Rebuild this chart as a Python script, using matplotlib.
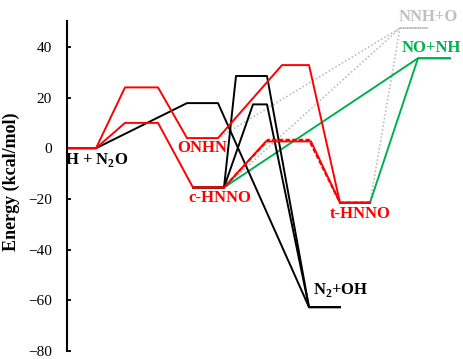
import matplotlib
matplotlib.use("Agg")
import matplotlib.pyplot as plt

plt.rcParams['font.family'] = ['Liberation Serif', 'DejaVu Serif']
plt.rcParams['mathtext.fontset'] = 'custom'
plt.rcParams['mathtext.rm'] = 'Liberation Serif'
plt.rcParams['mathtext.bf'] = 'Liberation Serif:bold'

# energy levels: name -> (x start, x end, energy in kcal/mol)
levels = {
    "R":      (67, 96, 0.0),
    "TS1a":   (125, 158, 24.0),
    "TS1b":   (125, 158, 10.0),
    "TSk1":   (187, 218, 17.8),
    "ONHN":   (187, 218, 4.0),
    "cHNNO":  (193, 224, -15.5),
    "TSk2":   (236, 267, 28.5),
    "TSk3":   (253, 267, 17.3),
    "TSr3":   (282, 309, 32.8),
    "TSr2":   (266, 311, 2.7),
    "TSr2b":  (268, 309, 3.3),
    "tHNNO":  (340, 370, -21.5),
    "N2OH":   (309, 340, -62.7),
    "NNHO":   (400, 428, 47.4),
    "NONH":   (418, 450, 35.5),
}

# reaction paths drawn as sequences of levels
red_paths = [["R", "TS1a", "ONHN", "TSr3", "tHNNO"],
             ["R", "TS1b", "cHNNO", "TSr2", "tHNNO"]]
red_dashed = [["cHNNO", "TSr2b", "tHNNO"]]
black_paths = [["R", "TSk1", "N2OH"],
               ["cHNNO", "TSk2", "N2OH"],
               ["cHNNO", "TSk3", "N2OH"]]
green_paths = [["cHNNO", "NONH"], ["tHNNO", "NONH"]]
grey_paths = [["ONHN", "NNHO"], ["cHNNO", "NNHO"], ["tHNNO", "NNHO"]]

# species labels: text, x center, energy, color
labels = [
    ("H + N$_\\mathbf{2}$O", 97, -4.7, "black"),
    ("ONHN", 202, 0.0, "red"),
    ("c-HNNO", 220, -19.8, "red"),
    ("t-HNNO", 360, -26.1, "red"),
    ("N$_\\mathbf{2}$+OH", 341, -56.0, "black"),
    ("NO+NH", 431, 39.5, "#00b050"),
    ("NNH+O", 428, 51.8, "#c0c0c0"),
]

yticks = [-80, -60, -40, -20, 0, 20, 40]


def draw_path(ax, names, **kw):
    xs, ys = [], []
    for n in names:
        x0, x1, e = levels[n]
        xs += [x0, x1]
        ys += [e, e]
    ax.plot(xs, ys, **kw)


fig = plt.figure(figsize=(4.63, 3.59), dpi=100)
ax = fig.add_axes([67 / 463, 8 / 359, 396 / 463, 329.5 / 359])

for p in grey_paths:
    draw_path(ax, p, color="#b4b4b4", lw=1.1, ls=(0, (1, 1.5)))
for p in green_paths:
    draw_path(ax, p, color="#00b050", lw=1.4)
for p in black_paths:
    draw_path(ax, p, color="black", lw=1.4)
for p in red_paths:
    draw_path(ax, p, color="red", lw=1.4)
for p in red_dashed:
    draw_path(ax, p, color="red", lw=1.6, ls=(0, (2, 1)))

for text, x, y, c in labels:
    ax.text(x, y, text, color=c, fontsize=12, fontweight="bold",
            ha="center", va="center", clip_on=False)

ax.set_xlim(67, 463)
ax.set_ylim(-80, 50)
ax.set_yticks(yticks)
ax.tick_params(axis="y", direction="in", length=3, width=1.3, pad=11,
               labelsize=11)
ax.set_xticks([])
for s in ["top", "right", "bottom"]:
    ax.spines[s].set_visible(False)
ax.spines["left"].set_linewidth(1.5)
ax.set_ylabel("Energy (kcal/mol)", fontsize=13, fontweight="bold")
ax.yaxis.set_label_coords(-0.119, 0.513)

fig.savefig("out.png", dpi=100)
